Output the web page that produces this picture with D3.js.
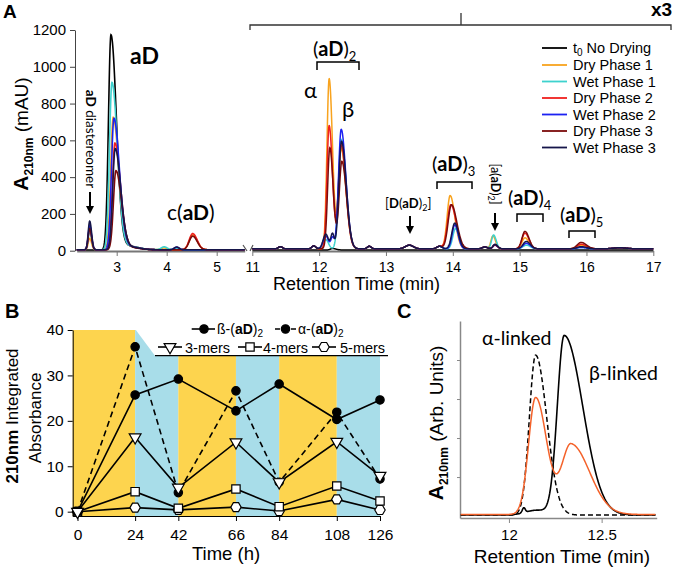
<!DOCTYPE html>
<html><head><meta charset="utf-8">
<script src="https://cdn.jsdelivr.net/npm/d3@7"></script>
<style>body{margin:0;background:#fff} svg{display:block}</style>
</head><body>
<svg id="c" width="674" height="570"></svg>
<script>
// ================= DATA =================
// Panel A : chromatogram traces, described as peaks
// peak = [retention time (min), height as plotted (mAU), left width, right width]
const traceNames = ["t0 No Drying","Dry Phase 1","Wet Phase 1","Dry Phase 2","Wet Phase 2","Dry Phase 3","Wet Phase 3"];
const traceColors = ["#000000","#F8A31E","#3ED2CE","#F0201E","#1C22F2","#7B0B0B","#16164A"];
const leftBaseline = [4,5,5,5,5,5,5];
const leftPeaks = [
  [[2.885,1170,0.05,0.11],[3.25,20,0.1,0.2]],
  [[2.46,62,0.03,0.037],[2.93,720,0.05,0.11],[3.25,15,0.1,0.2],[3.95,10,0.06,0.06],[4.52,80,0.07,0.09]],
  [[2.46,100,0.03,0.037],[2.905,910,0.05,0.11],[3.25,18,0.1,0.2],[3.95,16,0.06,0.06],[4.2,8,0.05,0.05]],
  [[2.46,120,0.03,0.037],[2.965,580,0.05,0.11],[3.25,15,0.1,0.2],[4.52,88,0.07,0.09]],
  [[2.46,130,0.03,0.037],[2.945,715,0.05,0.11],[3.25,15,0.1,0.2],[4.2,14,0.05,0.05]],
  [[2.46,115,0.03,0.037],[2.985,430,0.05,0.11],[3.25,12,0.1,0.2],[4.52,74,0.07,0.09]],
  [[2.46,155,0.03,0.037],[2.97,550,0.05,0.11],[3.25,15,0.1,0.2],[4.2,15,0.05,0.05]]
];
// right part is plotted x3 (values here are as plotted)
const rightBaseline = [4,10,10,10,10,10,10];
const rightMinorPeaks = [[11.42,12,0.03,0.03],[11.92,16,0.03,0.03],[12.75,14,0.03,0.03],[13.35,20,0.06,0.06],[13.8,14,0.04,0.04],[14.48,10,0.04,0.04],[16.5,6,0.1,0.1]];
const rightPeaks = [
  [[12.2,8,0.03,0.05]],
  [[12.15,925,0.033,0.05],[12.33,545,0.04,0.07],[13.96,290,0.045,0.07],[14.6,70,0.03,0.04],[15.08,60,0.045,0.06],[15.92,20,0.06,0.08]],
  [[12.1,50,0.04,0.04],[12.33,595,0.04,0.07],[14.04,110,0.04,0.05],[14.61,75,0.03,0.04],[15.1,20,0.05,0.06],[15.92,8,0.06,0.08]],
  [[12.15,670,0.033,0.05],[12.33,565,0.04,0.07],[13.97,240,0.05,0.08],[14.63,20,0.03,0.04],[15.08,85,0.045,0.06],[15.92,25,0.06,0.08]],
  [[12.1,70,0.04,0.04],[12.2,60,0.025,0.025],[12.33,650,0.04,0.07],[14.03,130,0.04,0.05],[14.63,20,0.03,0.04],[15.1,30,0.05,0.06],[15.92,8,0.06,0.08]],
  [[12.16,550,0.033,0.05],[12.34,475,0.04,0.07],[13.98,240,0.05,0.08],[14.63,22,0.03,0.04],[15.08,95,0.045,0.06],[15.92,35,0.06,0.08]],
  [[12.1,80,0.04,0.04],[12.2,80,0.025,0.025],[12.335,585,0.04,0.07],[14.03,140,0.045,0.055],[14.63,25,0.03,0.04],[15.1,40,0.05,0.06],[15.92,12,0.06,0.08]]
];
const yTicksA = [0,200,400,600,800,1000,1200];
const xTicksALeft = [3,4,5];
const xTicksARight = [11,12,13,14,15,16,17];

// Panel B : integrated absorbance vs time
const timePoints = [0,24,42,66,84,108,126];
const betaDimer  = [0,25.7,29.2,22.2,28.1,20.3,24.6];
const alphaDimer = [0,36.3,4.2,26.6,6.5,21.9,7.2];
const trimers    = [0,16.4,5.3,15.3,6.5,15.4,7.9];
const tetramers  = [0,4.4,0.75,5.0,1.1,5.66,2.36];
const pentamers  = [0,0.9,0.4,1.0,0.15,2.7,0.37];
const phases = [[-2,24,"dry"],[24,42,"wet"],[42,66,"dry"],[66,84,"wet"],[84,108,"dry"],[108,126,"wet"]];
const yTicksB = [0,10,20,30,40];

// Panel C : standards vs sample (arb. units)
const alphaStdPeaks = [[12.144,82,0.034,0.06]];
const betaStdPeaks  = [[12.298,92,0.037,0.1],[12.15,2.5,0.06,0.06],[12.08,2.5,0.008,0.008]];
const samplePeaks   = [[12.144,60,0.038,0.06],[12.335,36,0.05,0.1]];
const xTicksC = [12,12.5];
const yTicksC = [20,40,60,80];

// ================= DRAWING =================
const svg = d3.select("#c");
svg.append("rect").attr("width",674).attr("height",570).attr("fill","#fff");
const AXF = "'Liberation Sans', Arial, sans-serif";
const LBF = "Lato, 'Open Sans', sans-serif";

function rich(g, x, y, parts, o = {}) {
  const t = g.append("text").attr("x", x).attr("y", y)
    .attr("font-family", o.family || AXF).attr("font-size", o.size || 14).attr("fill", "#000");
  if (o.anchor) t.attr("text-anchor", o.anchor);
  if (o.rotate) t.attr("transform", `rotate(${o.rotate},${x},${y})`);
  let shift = 0;
  parts.forEach(p => {
    const s = t.append("tspan").text(p.t);
    if (p.b) s.attr("font-weight", "bold");
    if (p.size) s.attr("font-size", p.size);
    const target = p.sub ? (p.sub === true ? 4 : p.sub) : 0;
    if (target !== shift) { s.attr("dy", target - shift); shift = target; }
  });
  return t;
}
function peakValue(t, pk) { const [c, h, sl, sr] = pk; const s = t < c ? sl : sr; return h * Math.exp(-0.5 * ((t - c) / s) ** 2); }
function traceData(peaks, base, t0, t1, step) {
  const pts = [];
  for (let t = t0; t <= t1 + 1e-9; t += step) pts.push([t, base + d3.sum(peaks, p => peakValue(t, p))]);
  return pts;
}
function styleAxis(g, color, size, width) {
  g.selectAll("path").attr("stroke", color).attr("stroke-width", width || 1);
  g.selectAll("line").attr("stroke", color);
  g.selectAll("text").attr("font-family", AXF).attr("font-size", size).attr("fill", "#000");
}
function arrowDown(g, x, y1, y2) {
  g.append("line").attr("x1", x).attr("x2", x).attr("y1", y1).attr("y2", y2 - 6).attr("stroke", "#000").attr("stroke-width", 2);
  g.append("path").attr("d", `M${x-4},${y2-8}L${x+4},${y2-8}L${x},${y2}Z`).attr("fill", "#000");
}
function bracket(g, x1, x2, yTop, yEnd) {
  g.append("path").attr("d", `M${x1},${yEnd}V${yTop}H${x2}V${yEnd}`).attr("fill", "none").attr("stroke", "#000").attr("stroke-width", 1.5);
}
const fmtInt = d3.format("d");

// ---------- Panel A ----------
const gA = svg.append("g");
const yA = d3.scaleLinear().domain([0, 1200]).range([250.7, 30]);
const xAL = d3.scaleLinear().domain([2.2, 5.56]).range([76.7, 244.7]);
const xAR = d3.scaleLinear().domain([11, 17]).range([252.3, 653.3]);

rich(gA, 3, 18, [{t: "A", b: true}], {size: 19});

const ayA = gA.append("g").attr("transform", "translate(75,0)")
  .call(d3.axisLeft(yA).tickValues(yTicksA).tickFormat(fmtInt).tickSize(5).tickSizeOuter(0).tickPadding(4));
styleAxis(ayA, "#444", 15);

const axL = gA.append("g").attr("transform", "translate(0,251)")
  .call(d3.axisBottom(xAL).tickValues(xTicksALeft).tickFormat(fmtInt).tickSize(5).tickSizeOuter(0).tickPadding(6));
styleAxis(axL, "#777", 14, 2);
const axR = gA.append("g").attr("transform", "translate(0,251)")
  .call(d3.axisBottom(xAR).tickValues(xTicksARight).tickFormat(fmtInt).tickSize(5).tickSizeOuter(0).tickPadding(6));
styleAxis(axR, "#777", 14, 2);
// axis break marks
gA.append("path").attr("d", "M243,245L247,251M250,251L253,245").attr("stroke", "#555").attr("stroke-width", 1.2).attr("fill", "none");

const lineAL = d3.line().x(d => xAL(d[0])).y(d => yA(d[1]));
const lineAR = d3.line().x(d => xAR(d[0])).y(d => yA(d[1]));
traceNames.forEach((n, i) => {
  gA.append("path").datum(traceData(leftPeaks[i], leftBaseline[i], 2.2, 5.56, 0.005))
    .attr("d", lineAL).attr("fill", "none").attr("stroke", traceColors[i]).attr("stroke-width", 1.6);
});
traceNames.forEach((n, i) => {
  const pk = i === 0 ? rightPeaks[i] : rightPeaks[i].concat(rightMinorPeaks);
  gA.append("path").datum(traceData(pk, rightBaseline[i], 11, 17, 0.004))
    .attr("d", lineAR).attr("fill", "none").attr("stroke", traceColors[i]).attr("stroke-width", 1.5);
});

// y title
rich(gA, 28, 134, [{t: "A", b: true, size: 21}, {t: "210nm", b: true, size: 12, sub: 5}, {t: " (mAU)", size: 19}], {anchor: "middle", rotate: -90});
// x title
rich(gA, 273, 290, [{t: "Retention Time (min)"}], {size: 18});

// x3 bracket
gA.append("path").attr("d", "M250,30V25H671V30M461,25V13").attr("fill", "none").attr("stroke", "#333").attr("stroke-width", 1.3);
rich(gA, 651, 16, [{t: "x3", b: true}], {size: 19});

// annotations
rich(gA, 130, 64, [{t: "aD", b: true}], {family: LBF, size: 23});
rich(gA, 86, 139, [{t: "aD", b: true}, {t: " diastereomer"}], {family: LBF, size: 13.5, anchor: "middle", rotate: 90});
arrowDown(gA, 90, 192, 214);
rich(gA, 167, 220, [{t: "c("}, {t: "aD", b: true}, {t: ")"}], {family: LBF, size: 21});

rich(gA, 313, 56, [{t: "("}, {t: "aD", b: true}, {t: ")"}, {t: "2", sub: 5, size: 13}], {family: LBF, size: 20});
bracket(gA, 317, 359, 62, 70);
rich(gA, 304, 98, [{t: "α"}], {family: LBF, size: 22});
rich(gA, 342, 117, [{t: "β"}], {family: LBF, size: 22});

rich(gA, 432, 171, [{t: "("}, {t: "aD", b: true}, {t: ")"}, {t: "3", sub: 5, size: 13}], {family: LBF, size: 20});
bracket(gA, 437, 472, 182, 189);
rich(gA, 385, 208, [{t: "["}, {t: "D", b: true}, {t: "("}, {t: "aD", b: true}, {t: ")"}, {t: "2", sub: 3, size: 9}, {t: "]"}], {family: LBF, size: 13});
arrowDown(gA, 410, 216, 234);
rich(gA, 491, 184, [{t: "[a("}, {t: "aD", b: true}, {t: ")"}, {t: "2", sub: 3, size: 9}, {t: "]"}], {family: LBF, size: 12.5, anchor: "middle", rotate: 90});
arrowDown(gA, 495, 213, 231);
rich(gA, 508, 205, [{t: "("}, {t: "aD", b: true}, {t: ")"}, {t: "4", sub: 5, size: 13}], {family: LBF, size: 20});
bracket(gA, 517, 543, 214, 222);
rich(gA, 560, 222, [{t: "("}, {t: "aD", b: true}, {t: ")"}, {t: "5", sub: 5, size: 13}], {family: LBF, size: 20});
bracket(gA, 569, 595, 231, 238);

// legend
const legY = [48, 65, 81.5, 98, 114.5, 131, 147.5];
traceNames.forEach((n, i) => {
  gA.append("line").attr("x1", 542).attr("x2", 567).attr("y1", legY[i]).attr("y2", legY[i])
    .attr("stroke", traceColors[i]).attr("stroke-width", 1.8);
  if (i === 0) rich(gA, 573, legY[i] + 5, [{t: "t"}, {t: "0", sub: 3, size: 10}, {t: " No Drying"}], {size: 14.5});
  else rich(gA, 573, legY[i] + 5, [{t: n}], {size: 14.5});
});

// ---------- Panel B ----------
const gB = svg.append("g");
const xB = d3.scaleLinear().domain([-2, 126]).range([72.7, 380]);
const yB = d3.scaleLinear().domain([-0.95, 40]).range([516, 330]);
const phaseColor = {dry: "#FDD44E", wet: "#A8DDE9"};
gB.selectAll("rect.band").data(phases).join("rect")
  .attr("x", d => xB(d[0])).attr("width", d => xB(d[1]) - xB(d[0]))
  .attr("y", yB(40)).attr("height", yB(-0.95) - yB(40)).attr("fill", d => phaseColor[d[2]]);
// legend cut-out
gB.append("path").attr("d", `M${xB(24)},${yB(40)-1}L155,355.7H392V${yB(40)-1}Z`).attr("fill", "#fff");
gB.append("line").attr("x1", 155).attr("x2", 388).attr("y1", 355.7).attr("y2", 355.7).attr("stroke", "#000").attr("stroke-width", 1.2);

const ayB = gB.append("g").attr("transform", `translate(${xB(-2)},0)`)
  .call(d3.axisLeft(yB).tickValues(yTicksB).tickSize(5).tickSizeOuter(0).tickPadding(4));
styleAxis(ayB, "#000", 15.5);
const axB = gB.append("g").attr("transform", `translate(0,${yB(-0.95)})`)
  .call(d3.axisBottom(xB).tickValues(timePoints).tickSize(5).tickSizeOuter(0).tickPadding(8));
styleAxis(axB, "#000", 15.5);

rich(gB, 5, 318, [{t: "B", b: true}], {size: 20});
rich(gB, 226, 560, [{t: "Time (h)"}], {size: 18.5, anchor: "middle"});
rich(gB, 18, 416, [{t: "210nm", b: true}, {t: " Integrated"}], {size: 17, anchor: "middle", rotate: -90});
rich(gB, 41, 418, [{t: "Absorbance"}], {size: 17, anchor: "middle", rotate: -90});

const lineB = d3.line().x((d, i) => xB(timePoints[i])).y(d => yB(d));
function seriesB(vals, dash) {
  gB.append("path").datum(vals).attr("d", lineB).attr("fill", "none").attr("stroke", "#000")
    .attr("stroke-width", 1.6).attr("stroke-dasharray", dash || null);
}
const hexagon = {draw(ctx, size) {
  const r = Math.sqrt(size / (1.5 * Math.sqrt(3)));
  for (let k = 0; k < 6; k++) { const a = Math.PI / 3 * k; const px = r * Math.cos(a), py = r * Math.sin(a); k ? ctx.lineTo(px, py) : ctx.moveTo(px, py); }
  ctx.closePath();
}};
const symFilled = d3.symbol(d3.symbolCircle, 55);
const symTri = d3.symbol(d3.symbolTriangle, 60);
const symSq = d3.symbol(d3.symbolSquare, 70);
const symHex = d3.symbol(hexagon, 70);
function markersB(vals, sym, filled, rot) {
  gB.selectAll(null).data(vals).join("path")
    .attr("transform", (d, i) => `translate(${xB(timePoints[i])},${yB(d)})${rot ? " rotate(180)" : ""}`)
    .attr("d", sym).attr("fill", filled ? "#000" : "#fff").attr("stroke", "#000").attr("stroke-width", 1.2);
}
seriesB(pentamers); seriesB(tetramers); seriesB(trimers); seriesB(betaDimer); seriesB(alphaDimer, "6,4");
markersB(pentamers, symHex, false);
markersB(tetramers, symSq, false);
markersB(alphaDimer, symFilled, true);
markersB(betaDimer, symFilled, true);
markersB(trimers, symTri, false, true);

// B legend
function legLine(x1, x2, y, dash) {
  gB.append("line").attr("x1", x1).attr("x2", x2).attr("y1", y).attr("y2", y).attr("stroke", "#000").attr("stroke-width", 1.6).attr("stroke-dasharray", dash || null);
}
function legSym(x, y, sym, filled, rot) {
  gB.append("path").attr("transform", `translate(${x},${y})${rot ? " rotate(180)" : ""}`).attr("d", sym)
    .attr("fill", filled ? "#000" : "#fff").attr("stroke", "#000").attr("stroke-width", 1.2);
}
legLine(191.7, 215, 329); legSym(204, 329, symFilled, true);
rich(gB, 217, 334, [{t: "ß-("}, {t: "aD", b: true}, {t: ")"}, {t: "2", sub: 3, size: 10}], {size: 14});
legLine(275, 296, 329, "5,3"); legSym(285.5, 329, symFilled, true);
rich(gB, 298, 334, [{t: "α-("}, {t: "aD", b: true}, {t: ")"}, {t: "2", sub: 3, size: 10}], {size: 14});
legLine(158, 182, 347); legSym(170, 347, symTri, false, true);
rich(gB, 185, 352.5, [{t: "3-mers"}], {size: 14.5});
legLine(238, 262, 347); legSym(250, 347, symSq, false);
rich(gB, 263, 352.5, [{t: "4-mers"}], {size: 14.5});
legLine(312, 336, 347); legSym(324, 347, symHex, false);
rich(gB, 340, 352.5, [{t: "5-mers"}], {size: 14.5});

// ---------- Panel C ----------
const gC = svg.append("g");
const xC = d3.scaleLinear().domain([11.736, 12.797]).range([460, 656.7]);
const yC = d3.scaleLinear().domain([-1, 100]).range([518, 321]);
rich(gC, 397, 318, [{t: "C", b: true}], {size: 20});
const ayC = gC.append("g").attr("transform", "translate(460,0)")
  .call(d3.axisLeft(yC).tickValues(yTicksC).tickSize(3).tickSizeOuter(0).tickFormat(""));
styleAxis(ayC, "#888", 12, 1.5);
const axC = gC.append("g").attr("transform", "translate(0,518)")
  .call(d3.axisBottom(xC).tickValues(xTicksC).tickSize(5).tickSizeOuter(0).tickPadding(6).tickFormat(d => d));
styleAxis(axC, "#888", 15, 1.5);
const lineC = d3.line().x(d => xC(d[0])).y(d => yC(d[1]));
gC.append("path").datum(traceData(alphaStdPeaks, 0.5, 11.74, 12.79, 0.003)).attr("d", lineC)
  .attr("fill", "none").attr("stroke", "#000").attr("stroke-width", 1.5).attr("stroke-dasharray", "5,3");
gC.append("path").datum(traceData(betaStdPeaks, 0.5, 11.74, 12.79, 0.003)).attr("d", lineC)
  .attr("fill", "none").attr("stroke", "#000").attr("stroke-width", 1.6);
gC.append("path").datum(traceData(samplePeaks, 0.8, 11.74, 12.79, 0.003)).attr("d", lineC)
  .attr("fill", "none").attr("stroke", "#F4622A").attr("stroke-width", 1.5);
rich(gC, 482, 345, [{t: "α-linked"}], {family: LBF, size: 19.5});
rich(gC, 589, 380, [{t: "β-linked"}], {family: LBF, size: 19.5});
rich(gC, 562, 563, [{t: "Retention Time (min)"}], {size: 19, anchor: "middle"});
rich(gC, 443, 423, [{t: "A", b: true, size: 21}, {t: "210nm", b: true, size: 12, sub: 5}, {t: " (Arb. Units)", size: 19}], {anchor: "middle", rotate: -90});
</script>
</body></html>
